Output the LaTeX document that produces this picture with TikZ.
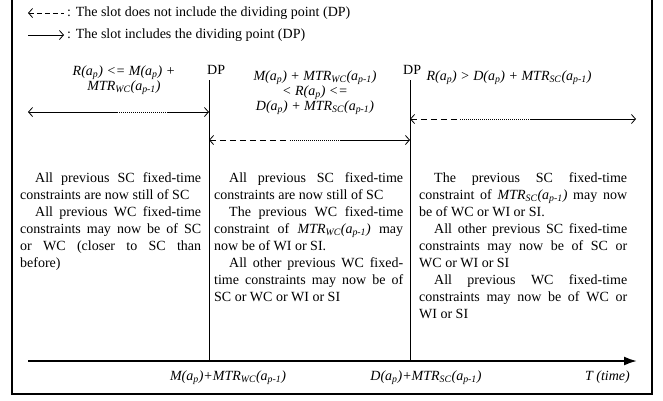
\documentclass[tikz,border=0pt]{standalone}
\usepackage{fontspec}
\setmainfont{Liberation Serif}
\usepackage{tikz}
\usetikzlibrary{arrows.meta, positioning}
\tikzstyle{slot} = [line width=0.8pt]
\tikzstyle{notincl} = [line width=0.8pt, dash pattern=on 6pt off 4pt]
\tikzstyle{gap} = [line width=0.8pt, dash pattern=on 1pt off 1pt]
\tikzstyle{dpline} = [line width=0.7pt]
\tikzstyle{cond} = [font=\fontsize{14}{15}\selectfont\itshape, align=center, inner sep=0pt]
\tikzstyle{legend} = [font=\fontsize{14}{17}\selectfont, anchor=west, inner sep=0pt]
\tikzstyle{axislabel} = [font=\fontsize{14}{17}\selectfont\itshape, anchor=base, inner sep=0pt]
\tikzstyle{rules} = [anchor=base west, inner sep=0pt]
\newcommand{\ap}{a\textsubscript{p}}
\newcommand{\mtr}[1]{\textit{MTR\textsubscript{#1}(a\textsubscript{p-1})}}
\newcommand{\slottext}[2]{\parbox[t]{#1}{\fontsize{14}{17}\selectfont
  \setlength{\parindent}{15pt}\emergencystretch=2em #2}}

\begin{document}
\begin{tikzpicture}[x=1pt, y=-1pt, >={Straight Barb[length=4pt, width=9pt]}]
        \useasboundingbox (0,0) rectangle (663,400);
        % frame
        \draw[line width=1.2pt] (12,0) -- (12,394) -- (652,394) -- (652,0);

        % legend
        \coordinate (lga) at (28,13);
        \coordinate (lgb) at (64,13);
        \coordinate (lgc) at (28,35);
        \coordinate (lgd) at (64,35);
        \draw[notincl, dash pattern=on 5pt off 3pt, <-] (lga) -- (lgb);
        \draw[slot, ->] (lgc) -- (lgd);
        \node[legend] (lg1) at (67,13) {: The slot does not include the dividing point (DP)};
        \node[legend] (lg2) at (67,35) {: The slot includes the dividing point (DP)};

        % dividing points and time axis
        \coordinate (ax0) at (28,361);
        \coordinate (ax1) at (637,361);
        \coordinate (dp1) at (209,80);
        \coordinate (dp2) at (410,80);
        \draw[dpline] (dp1) -- (dp1 |- ax0);
        \draw[dpline] (dp2) -- (dp2 |- ax0);
        \node[font=\fontsize{14}{17}\selectfont, anchor=base west, inner sep=0pt] (dplab1) at (207,74) {DP};
        \node[font=\fontsize{14}{17}\selectfont, anchor=base west, inner sep=0pt] (dplab2) at (403,74) {DP};
        \draw[line width=2pt, -{Latex[length=13pt, width=9pt]}] (ax0) -- (ax1);

        % slot conditions
        \node[cond] (c1) at (124,80) {R(\ap) <= M(\ap) +\\ MTR\textsubscript{WC}(a\textsubscript{p-1})};
        \node[cond] (c2) at (315,93) {M(\ap) + MTR\textsubscript{WC}(a\textsubscript{p-1})\\ < R(\ap) <=\\ D(\ap) + MTR\textsubscript{SC}(a\textsubscript{p-1})};
        \node[cond] (c3) at (509,78) {R(\ap) > D(\ap) + MTR\textsubscript{SC}(a\textsubscript{p-1})};

        % slot arrows
        \coordinate (s1a) at (28,112);
        \coordinate (s1b) at (117,112);
        \coordinate (s1c) at (168,112);
        \draw[slot, <-] (s1a) -- (s1b);
        \draw[gap] (s1b) -- (s1c);
        \draw[slot, ->] (s1c) -- (dp1 |- s1a);

        \coordinate (s2a) at (290,140);
        \coordinate (s2b) at (340,140);
        \draw[notincl, <-] (dp1 |- s2a) -- (s2a);
        \draw[gap] (s2a) -- (s2b);
        \draw[slot, ->] (s2b) -- (dp2 |- s2b);

        \coordinate (s3a) at (460,119);
        \coordinate (s3b) at (530,119);
        \coordinate (s3c) at (636,119);
        \draw[notincl, <-] (dp2 |- s3a) -- (s3a);
        \draw[gap] (s3a) -- (s3b);
        \draw[slot, ->] (s3b) -- (s3c);

        % what happens to the previous constraints
        \node[rules] (r1) at (20,182) {\slottext{181pt}{All previous SC fixed-time\linebreak constraints are now still of SC\par
            All previous WC fixed-time\linebreak constraints may now be of SC\linebreak or WC (closer to SC than\linebreak before)}};
        \node[rules] (r2) at (214,182) {\slottext{189pt}{All previous SC fixed-time\linebreak constraints are now still of SC\par
            The previous WC fixed-time\linebreak constraint of \mtr{WC} may\linebreak now be of WI or SI.\par
            All other previous WC fixed-\linebreak time constraints may now be of\linebreak SC or WC or WI or SI}};
        \node[rules] (r3) at (419,182) {\slottext{208pt}{The previous SC fixed-time\linebreak constraint of \mtr{SC} may now\linebreak be of WC or WI or SI.\par
            All other previous SC fixed-time\linebreak constraints may now be of SC or\linebreak WC or WI or SI\par
            All previous WC fixed-time\linebreak constraints may now be of WC or\linebreak WI or SI}};

        % axis labels
        \node[axislabel] (t1) at (228,380) {M(\ap)+MTR\textsubscript{WC}(a\textsubscript{p-1})};
        \node[axislabel] (t2) at (426,380) {D(\ap)+MTR\textsubscript{SC}(a\textsubscript{p-1})};
        \node[axislabel, anchor=base east] (t3) at (630,380) {T (time)};
\end{tikzpicture}
\end{document}
